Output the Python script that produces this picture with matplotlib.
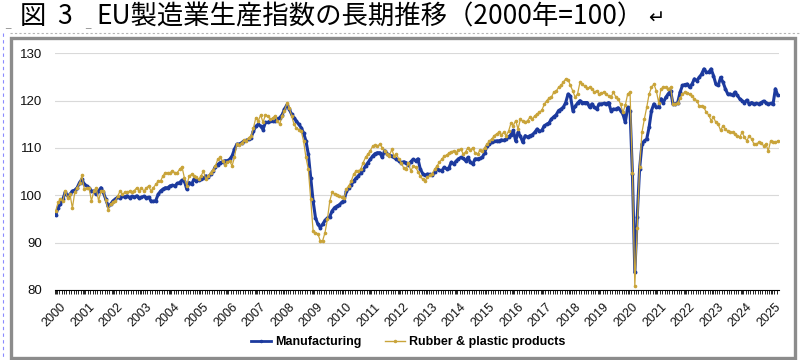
import matplotlib
matplotlib.use('Agg')
import matplotlib.pyplot as plt
from matplotlib.patches import Rectangle
from matplotlib.lines import Line2D
from matplotlib.transforms import ScaledTranslation
import numpy as np

# ---------------- data ----------------
years = [str(y) for y in range(2000, 2026)]
series_names = ['Manufacturing', 'Rubber & plastic products']
y_ticks = [80, 90, 100, 110, 120, 130]
title_fig = '図'
title_num = '3'
title_main = 'EU製造業生産指数の長期推移（2000年=100）'

# monthly index, Jan 2000 - Apr 2025
manufacturing = [
    95.8, 97.4, 98.2, 99.2, 100.6, 99.9, 100.2, 100.9, 101.1, 101.6, 102.7, 103.4,   # 2000
    102.3, 102.0, 101.6, 100.9, 100.9, 100.2, 100.9, 101.6, 100.6, 99.2, 97.7, 98.1,  # 2001
    98.8, 99.2, 99.6, 99.5, 99.9, 99.6, 99.9, 99.5, 99.8, 99.6, 99.9, 99.4,          # 2002
    99.6, 99.8, 99.5, 99.6, 98.8, 98.7, 98.9, 100.2, 100.9, 101.3, 101.6, 101.6,     # 2003
    102.0, 102.1, 102.0, 102.5, 102.7, 103.2, 103.0, 101.3, 102.7, 102.3, 103.4, 103.0,  # 2004
    103.2, 103.4, 103.6, 104.1, 103.9, 104.4, 105.1, 106.0, 106.5, 106.9, 107.1, 107.3,  # 2005
    107.3, 107.6, 108.3, 109.7, 110.8, 110.8, 111.1, 111.5, 111.6, 111.8, 112.2, 113.6,  # 2006
    114.6, 115.0, 114.6, 113.9, 115.4, 115.4, 115.7, 115.6, 115.8, 116.1, 116.4, 117.0,  # 2007
    118.2, 119.1, 118.2, 117.1, 116.4, 115.7, 115.0, 114.3, 113.2, 111.5, 108.7, 103.7,  # 2008
    98.8, 95.3, 93.9, 93.2, 93.9, 94.7, 95.2, 95.5, 96.7, 97.4, 97.7, 98.0,              # 2009
    98.5, 98.9, 100.9, 101.5, 102.2, 103.0, 103.6, 104.1, 104.8, 105.3, 106.2, 106.9,    # 2010
    107.6, 108.3, 108.8, 109.0, 109.0, 108.0, 109.4, 108.8, 108.5, 108.3, 108.0, 107.6,  # 2011
    107.3, 106.9, 107.1, 106.9, 106.5, 107.1, 107.6, 107.3, 107.7, 105.5, 104.6, 104.2,  # 2012
    104.5, 104.4, 104.2, 104.9, 105.6, 105.3, 105.2, 105.9, 105.6, 105.8, 107.0, 106.6,  # 2013
    107.2, 107.7, 108.0, 107.8, 107.3, 108.0, 107.0, 106.6, 107.7, 107.7, 107.8, 108.0,  # 2014
    109.0, 110.5, 110.8, 111.2, 111.4, 111.5, 111.5, 111.7, 111.6, 111.9, 112.3, 112.8,  # 2015
    113.7, 111.5, 113.3, 112.5, 111.2, 112.6, 112.3, 112.6, 112.8, 113.3, 114.0, 113.5,  # 2016
    113.7, 114.7, 115.0, 115.3, 116.1, 116.6, 117.0, 117.9, 118.2, 118.6, 119.6, 121.4,  # 2017
    120.9, 117.9, 118.8, 119.5, 120.0, 119.6, 119.6, 119.6, 118.6, 119.3, 118.6, 118.2,  # 2018
    119.3, 119.3, 119.4, 119.3, 119.6, 117.9, 118.2, 118.2, 118.5, 117.9, 117.2, 115.4,  # 2019
    118.6, 117.9, 104.5, 83.7, 95.4, 105.6, 110.8, 111.5, 111.9, 114.4, 117.9, 119.3,    # 2020
    118.6, 118.6, 120.4, 119.6, 120.7, 121.4, 122.1, 119.3, 119.3, 119.6, 121.8, 123.2,  # 2021
    123.4, 123.5, 122.8, 123.5, 124.6, 124.2, 124.9, 125.6, 126.7, 126.0, 126.0, 126.7,  # 2022
    125.3, 123.5, 123.2, 124.9, 123.9, 122.5, 121.4, 121.4, 121.1, 121.8, 121.1, 120.4,  # 2023
    120.0, 119.6, 120.1, 119.3, 119.6, 119.3, 119.4, 119.3, 119.6, 119.9, 119.6, 119.3,  # 2024
    119.4, 119.3, 122.5, 121.1,                                                          # 2025
]

rubber_plastic = [
    96.7, 98.5, 99.2, 98.8, 100.9, 99.5, 100.2, 97.3, 100.6, 101.6, 102.5, 104.2,    # 2000
    101.3, 101.6, 101.6, 98.8, 100.9, 101.6, 98.8, 100.9, 100.9, 99.0, 97.0, 98.1,   # 2001
    98.5, 98.8, 99.8, 100.9, 100.2, 100.6, 100.6, 100.9, 100.6, 101.0, 101.6, 100.9, # 2002
    101.6, 100.9, 101.5, 102.0, 100.9, 101.6, 102.3, 103.0, 103.0, 104.1, 104.8, 104.8,  # 2003
    104.8, 105.1, 104.8, 104.8, 105.5, 106.0, 103.7, 102.0, 104.1, 104.4, 104.1, 103.8,  # 2004
    103.4, 104.1, 105.1, 103.4, 104.1, 104.8, 105.3, 106.2, 107.6, 108.0, 107.3, 106.5,  # 2005
    107.0, 107.3, 106.2, 108.0, 110.9, 110.6, 111.1, 111.6, 111.5, 112.2, 112.5, 114.3,  # 2006
    116.4, 115.7, 117.0, 115.4, 117.0, 116.8, 116.1, 116.3, 116.8, 115.8, 115.0, 116.8,  # 2007
    117.9, 119.4, 118.5, 116.8, 115.0, 114.2, 113.9, 113.6, 111.5, 108.0, 105.5, 99.2,   # 2008
    92.5, 92.1, 91.9, 90.4, 90.4, 92.1, 94.9, 98.8, 100.6, 100.2, 100.1, 99.9,           # 2009
    99.6, 99.5, 101.3, 102.0, 103.0, 104.4, 105.1, 105.1, 105.5, 106.9, 108.0, 108.7,    # 2010
    109.4, 110.4, 110.6, 110.4, 110.8, 110.1, 109.4, 108.7, 108.3, 109.7, 108.3, 108.7,  # 2011
    107.6, 106.9, 105.8, 105.5, 106.9, 105.1, 106.2, 106.0, 105.0, 104.0, 103.4, 103.1,  # 2012
    103.8, 104.2, 104.6, 105.5, 106.2, 107.0, 107.6, 108.3, 108.5, 108.9, 109.2, 109.4,  # 2013
    109.0, 109.6, 109.8, 108.7, 109.2, 110.1, 109.5, 110.1, 108.9, 108.7, 109.5, 109.4,  # 2014
    110.1, 110.8, 111.5, 111.9, 112.6, 113.0, 113.3, 112.8, 113.3, 112.6, 113.5, 115.2,  # 2015
    114.7, 115.8, 114.0, 116.1, 115.6, 115.4, 115.8, 116.5, 116.1, 116.8, 117.2, 117.5,  # 2016
    118.0, 119.2, 120.0, 120.5, 120.7, 121.8, 122.0, 122.8, 123.2, 123.9, 124.6, 124.4,  # 2017
    123.2, 122.0, 120.7, 121.5, 123.9, 123.5, 123.0, 122.6, 122.8, 122.5, 121.8, 122.1,  # 2018
    121.4, 121.6, 121.8, 121.4, 121.0, 120.7, 121.8, 120.8, 120.4, 119.3, 117.5, 119.0,  # 2019
    121.4, 121.8, 104.8, 80.9, 93.0, 105.9, 113.3, 116.1, 118.6, 121.4, 122.8, 123.5,    # 2020
    122.1, 119.6, 122.5, 122.8, 122.8, 122.5, 122.8, 119.3, 119.3, 119.6, 120.5, 121.4,  # 2021
    121.8, 121.6, 121.4, 120.9, 120.4, 120.0, 118.9, 118.9, 118.6, 117.5, 117.0, 115.8,  # 2022
    116.5, 115.4, 115.0, 113.7, 114.7, 114.0, 113.5, 113.3, 113.3, 113.0, 112.6, 112.3,  # 2023
    113.3, 112.3, 111.5, 112.6, 111.9, 110.8, 110.8, 111.2, 111.0, 110.5, 110.8, 109.4,  # 2024
    111.5, 111.2, 111.2, 111.5,                                                          # 2025
]

# ---------------- figure ----------------
plt.rcParams['font.family'] = ['Liberation Sans', 'DejaVu Sans']
W, H = 800, 360
fig = plt.figure(figsize=(W / 100, H / 100), dpi=100)
fig.patch.set_facecolor('white')


def fx(px):
    return px / W


def fy(py):
    return 1 - py / H


ax = fig.add_axes([fx(54.5), fy(290), (779 - 54.5) / W, (290 - 53.3) / H])
n = len(manufacturing)
xs = np.arange(n)
blue = '#1c3a9e'
gold = '#c9a43a'
ax.plot(xs, manufacturing, color=blue, lw=2.2, marker='o', ms=1.8,
        mec=blue, mfc=blue, label=series_names[0], zorder=3)
ax.plot(xs, rubber_plastic, color=gold, lw=0.9, marker='o', ms=1.6,
        mec=gold, mfc=gold, label=series_names[1], zorder=4)

ax.set_xlim(-0.5, n - 0.5)
ax.set_ylim(y_ticks[0], y_ticks[-1])
ax.set_yticks(y_ticks)
ax.yaxis.grid(True, color='#d9d9d9', lw=0.8)
ax.set_axisbelow(True)
for s in ['left', 'right', 'top']:
    ax.spines[s].set_visible(False)
ax.spines['bottom'].set_color('#000000')
ax.spines['bottom'].set_linewidth(0.8)

major = np.arange(0, n, 12)
ax.set_xticks(major)
ax.set_xticklabels(years[:len(major)], rotation=45, ha='right', va='top',
                   rotation_mode='anchor', fontsize=9, color='#111111')
ax.set_xticks(np.arange(n) - 0.5, minor=True)
ax.tick_params(axis='x', which='both', length=3, direction='out', width=0.6,
               color='#000000', pad=5)
ax.tick_params(axis='y', length=0, pad=9, labelsize=9.5, labelcolor='#111111')
off = ScaledTranslation(4 / 100, 0, fig.dpi_scale_trans)
for lab in ax.get_xticklabels():
    lab.set_transform(lab.get_transform() + off)

# legend
handles = [Line2D([], [], color=blue, lw=2.0, marker='o', ms=1.5),
           Line2D([], [], color=gold, lw=1.0, marker='o', ms=1.5)]
fig.legend(handles, series_names, loc='center', bbox_to_anchor=(fx(408), fy(342)),
           ncol=2, frameon=False, prop={'weight': 'bold', 'size': 9},
           handlelength=1.6, handletextpad=0.3, columnspacing=1.9)

# outer frame and document artefacts
fig.add_artist(Rectangle((fx(11), fy(358)), fx(795) - fx(11), fy(38) - fy(358),
                         transform=fig.transFigure, fill=False,
                         edgecolor='#8c8c8c', lw=2.4))
fig.add_artist(Line2D([fx(10), 1], [fy(33), fy(33)], transform=fig.transFigure,
                      color='#b4b4b4', lw=0.8, ls=(0, (2, 2))))
fig.add_artist(Line2D([fx(3), fx(3)], [fy(33), 0], transform=fig.transFigure,
                      color='#8a8aff', lw=0.8, ls=(0, (3, 3))))
fig.text(fx(5), fy(27), '_', fontsize=7, color='#808080')
fig.text(fx(85), fy(27), '_', fontsize=7, color='#808080')

# title
jp = ['Noto Sans CJK JP', 'DejaVu Sans']
fig.text(fx(20), fy(17), title_fig, fontsize=19, family=jp, va='center', color='black')
fig.text(fx(57), fy(17), title_num, fontsize=19, family=jp, va='center', color='black')
t = fig.text(fx(96), fy(17), title_main, fontsize=19, family=jp, va='center', color='black')
fig.canvas.draw()
bb = t.get_window_extent()
fig.text((bb.x1 + 5) / W, fy(18), '↵', fontsize=14, family=['DejaVu Sans'],
         va='center', color='black')

fig.savefig('out.png', dpi=100)
